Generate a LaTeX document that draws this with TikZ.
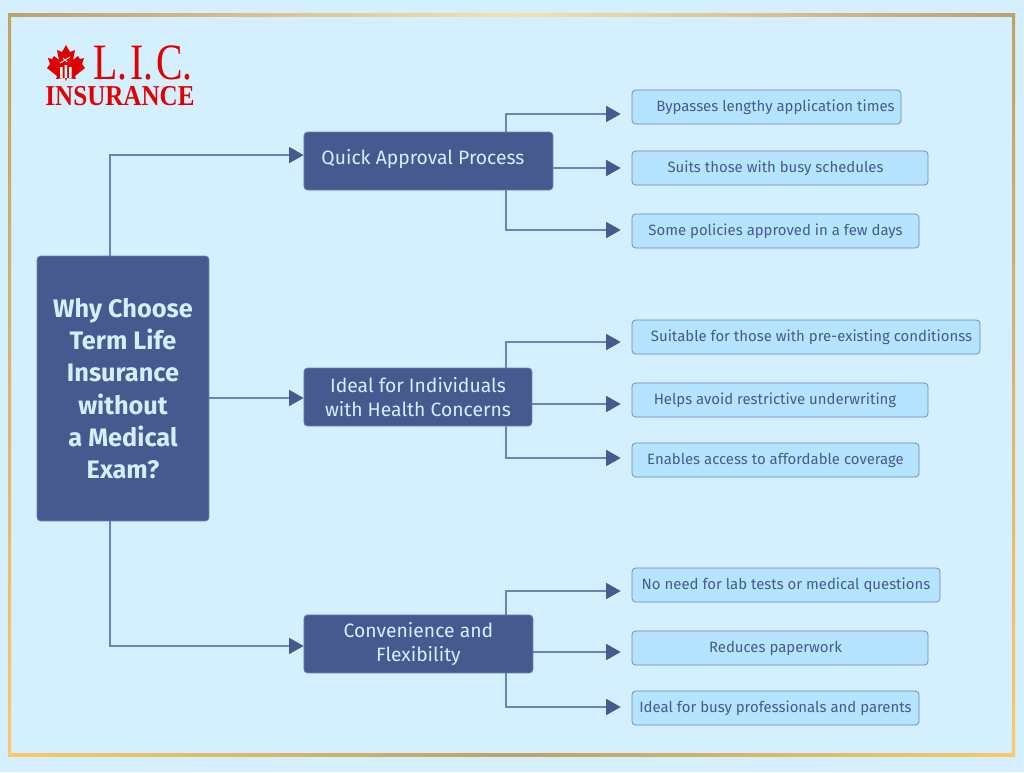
\documentclass[tikz,border=0pt]{standalone}
\usepackage{fontspec}
\usetikzlibrary{arrows.meta}
\setmainfont{Fira Sans}
\newfontfamily\logofont[FakeStretch=0.78,WordSpace=0.3]{Liberation Serif}
\newfontfamily\insurefont[FakeStretch=0.87]{Liberation Serif}
\definecolor{pagebg}{HTML}{D4F0FF}
\definecolor{darkbox}{HTML}{47598F}
\definecolor{lightbox}{HTML}{B5E4FF}
\definecolor{boxline}{HTML}{6C83B5}
\definecolor{lighttext}{HTML}{D4F0FF}
\definecolor{leaftext}{HTML}{47598F}
\definecolor{logored}{HTML}{E00000}
\definecolor{goldA}{HTML}{BFA265}
\definecolor{goldB}{HTML}{F7E0AC}
\definecolor{goldC}{HTML}{FDC76C}
\begin{document}
\begin{tikzpicture}[
  x=0.02cm, y=-0.02cm,
  node distance=3cm,
  rootbox/.style={rectangle, draw=boxline, fill=darkbox, rounded corners=2pt, text=lighttext, align=center, font=\fontsize{14.4}{18.4}\selectfont\bfseries, minimum width=3.44cm, minimum height=5.3cm, inner sep=0pt},
  topicbox/.style={rectangle, draw=boxline, fill=darkbox, rounded corners=2pt, text=lighttext, align=center, font=\fontsize{11}{14}\selectfont, minimum height=1.16cm, inner sep=0pt},
  leafbox/.style={rectangle, draw=boxline, fill=lightbox, rounded corners=2pt, text=leaftext, align=center, font=\fontsize{8.5}{11}\selectfont, minimum height=0.68cm, inner sep=0pt},
  link/.style={-{Triangle[length=0.29cm,width=0.32cm,color=darkbox,fill=darkbox]}, draw=boxline, line width=0.85pt},
  leaflink/.style={link, shorten >=0.22cm}
]
  \useasboundingbox[fill=pagebg] (0,0) rectangle (1024,772);
  % frame
  \fill[left color=goldA, right color=goldB] (8,13) rectangle (512,16);
  \fill[left color=goldB, right color=goldA] (512,13) rectangle (1015,16);
  \fill[left color=goldC, right color=goldA] (8,753) rectangle (512,756);
  \fill[left color=goldA, right color=goldC] (512,753) rectangle (1015,756);
  \fill[top color=goldA, bottom color=goldC] (8,13) rectangle (11,756);
  \fill[top color=goldA, bottom color=goldC] (1012,13) rectangle (1015,756);

  % logo
  \node[text=logored, font=\logofont\fontsize{29}{29}\selectfont, inner sep=0pt] (lic) at (143,62.5) {L. I. C.};
  \node[text=logored, font=\insurefont\bfseries\fontsize{16.4}{16.4}\selectfont, inner sep=0pt] (insurance) at (120,96) {INSURANCE};
  \fill[logored] (66,45) -- (70,52) -- (75,50) -- (73,60) -- (78,56) -- (80,59) -- (84,58) -- (82,64) -- (85,68) -- (75,76) -- (76,79) -- (67,78) -- (66,81) -- (65,78) -- (56,79) -- (57,76) -- (47,68) -- (50,64) -- (48,58) -- (52,59) -- (54,56) -- (59,60) -- (57,50) -- (62,52) -- cycle;
  \draw[white, line width=0.5pt] (60,63) -- (70,57) (63,58) -- (67,62);
  \fill[white] (60,67) rectangle (62.5,78) (64.5,65) rectangle (67,78) (69,67) rectangle (71.5,78);

  % main boxes
  \node[rootbox] (root) at (123,388.5) {Why Choose\\Term Life\\Insurance\\without\\a Medical\\Exam?};
  \node[topicbox, minimum width=4.98cm, right of=root, xshift=3.11cm, yshift=4.55cm] (quick) {\raisebox{0.05cm}[\height][\depth]{Quick Approval Process}\hspace*{0.22cm}};
  \node[topicbox, minimum width=4.56cm, right of=root, xshift=2.9cm, yshift=-0.17cm] (ideal) {Ideal for Individuals\\with Health Concerns};
  \node[topicbox, minimum width=4.58cm, right of=root, xshift=2.91cm, yshift=-5.11cm] (flex) {Convenience and\\Flexibility};

  % leaves
  \node[leafbox, minimum width=5.38cm] (bypass) at (766.5,107) {\hspace*{0.36cm}Bypasses lengthy application times};
  \node[leafbox, minimum width=5.92cm] (suits) at (780,168) {Suits those with busy schedules\hspace*{0.18cm}};
  \node[leafbox, minimum width=5.74cm] (some) at (775.5,231) {Some policies approved in a few days};
  \node[leafbox, minimum width=6.96cm] (suitable) at (806,337) {\hspace*{0.22cm}Suitable for those with pre-existing conditionss};
  \node[leafbox, minimum width=5.92cm] (helps) at (780,400) {Helps avoid restrictive underwriting\hspace*{0.2cm}};
  \node[leafbox, minimum width=5.74cm] (enables) at (775.5,460) {Enables access to affordable coverage};
  \node[leafbox, minimum width=6.16cm] (nolab) at (786,585) {No need for lab tests or medical questions};
  \node[leafbox, minimum width=5.92cm] (reduces) at (780,648) {Reduces paperwork\hspace*{0.18cm}};
  \node[leafbox, minimum width=5.74cm] (busy) at (775.5,708) {Ideal for busy professionals and parents};

  % connectors
  \draw[link] ([xshift=-0.26cm]root.north) |- ([yshift=0.12cm]quick.west);
  \draw[link] ([yshift=-0.19cm]root.east) -- ([yshift=-0.02cm]ideal.west);
  \draw[link] ([xshift=-0.26cm]root.south) |- ([yshift=-0.04cm]flex.west);

  \draw[leaflink] ([xshift=1.55cm]quick.north) |- ([yshift=-0.14cm]bypass.west);
  \draw[leaflink] (quick.east |- suits.west) -- (suits.west);
  \draw[leaflink] ([xshift=1.55cm]quick.south) |- ([yshift=0.02cm]some.west);
  \draw[leaflink] ([xshift=1.76cm]ideal.north) |- ([yshift=-0.1cm]suitable.west);
  \draw[leaflink] ([yshift=-0.08cm]ideal.east |- helps.west) -- ([yshift=-0.08cm]helps.west);
  \draw[leaflink] ([xshift=1.76cm]ideal.south) |- ([yshift=0.04cm]enables.west);
  \draw[leaflink] ([xshift=1.75cm]flex.north) |- ([yshift=-0.12cm]nolab.west);
  \draw[leaflink] ([yshift=-0.08cm]flex.east |- reduces.west) -- ([yshift=-0.08cm]reduces.west);
  \draw[leaflink] ([xshift=1.75cm]flex.south) |- ([yshift=0.02cm]busy.west);
\end{tikzpicture}
\end{document}
